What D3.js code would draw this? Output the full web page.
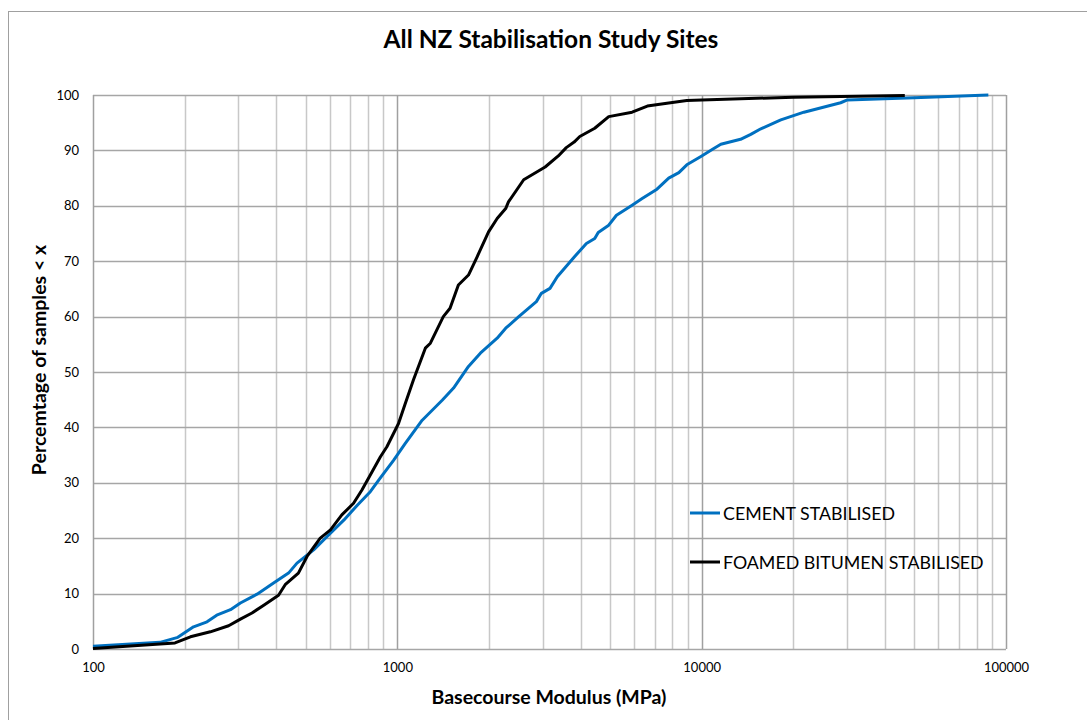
<html>
<head>
<script src="https://d3js.org/d3.v7.min.js"></script>
<style>
body { margin:0; background:white; }
text { font-family: Lato, "Open Sans", sans-serif; }
</style>
</head>
<body>
<div id="plot"></div>
<script>
// modulus (MPa) and percentage of samples < x
var cementX = [100,166,190,214,237,255,283,305,346,392,439,468,531,588,668,740,815,877,973,1062,1207,1404,1530,1713,1874,2128,2270,2506,2863,2974,3174,3354,3820,4180,4453,4572,4950,5248,5908,6374,7131,7792,8414,8937,9943,10860,11560,13420,14500,15650,18200,21680,28620,30120,50000,87500];
var cementY = [0.5,1.2,2.1,4.0,4.9,6.1,7.1,8.3,9.9,11.9,13.7,15.5,17.9,20.3,23.3,26,28.4,30.8,34.1,37.1,41.3,44.9,47.1,51,53.4,56.1,57.9,60,62.7,64.2,65.1,67.2,70.8,73.2,74.1,75.2,76.5,78.3,80.1,81.3,83,85,86,87.4,88.9,90.2,91.1,92,92.9,93.9,95.5,96.9,98.6,99.1,99.5,100];

var foamX = [100,186,209,243,279,305,333,364,407,428,473,505,558,603,657,718,765,815,880,924,1009,1062,1130,1236,1284,1416,1490,1587,1713,1829,1994,2128,2270,2318,2601,3060,3380,3590,3810,3977,4453,4950,5908,6630,7688,8937,10000,20000,46500];
var foamY = [0.1,1.1,2.2,3.1,4.2,5.4,6.5,7.9,9.7,11.6,13.7,16.7,20,21.5,24.2,26.3,28.7,31.4,34.7,36.5,40.7,44.3,48.6,54.3,55.2,60,61.5,65.7,67.5,70.8,75.3,77.7,79.5,80.7,84.7,87,89,90.5,91.5,92.5,94,96.1,96.9,98,98.5,99,99.1,99.6,99.9];

var seriesNames = ["CEMENT STABILISED", "FOAMED BITUMEN STABILISED"];
var seriesColors = ["#0070C0", "#000000"];
var xTicks = [100, 1000, 10000, 100000];
var yTicks = [0,10,20,30,40,50,60,70,80,90,100];

var W = 1087, H = 720;
var margin = {top:95, left:93, right:81, bottom:71};
var width = W - margin.left - margin.right;
var height = H - margin.top - margin.bottom;

var svg = d3.select("#plot").append("svg")
  .attr("width", W).attr("height", H);

// chart frame
svg.append("rect").attr("x", 8.5).attr("y", 11.5)
  .attr("width", 1200).attr("height", 900)
  .attr("fill", "none").attr("stroke", "#a0a0a0");

var g = svg.append("g").attr("transform", "translate("+margin.left+","+margin.top+")");

var x = d3.scaleLog().domain([100, 100000]).range([0, width]);
var y = d3.scaleLinear().domain([0, 100]).range([height, 0]);

// minor vertical gridlines
var minor = [];
[100, 1000, 10000].forEach(function(d){ for (var k=2;k<=9;k++) minor.push(d*k); });
g.selectAll(".minor").data(minor).enter().append("line")
  .attr("x1", function(d){ return Math.round(x(d))+0.5; })
  .attr("x2", function(d){ return Math.round(x(d))+0.5; })
  .attr("y1", 0).attr("y2", height)
  .attr("stroke", "#c8c8c8").attr("stroke-width", 1.5);

// horizontal gridlines
g.selectAll(".hgrid").data(yTicks).enter().append("line")
  .attr("x1", 0).attr("x2", width)
  .attr("y1", function(d){ return Math.round(y(d))+0.5; })
  .attr("y2", function(d){ return Math.round(y(d))+0.5; })
  .attr("stroke", "#a6a6a6").attr("stroke-width", 1.5);

// decade gridlines
g.selectAll(".major").data(xTicks).enter().append("line")
  .attr("x1", function(d){ return Math.round(x(d))+0.5; })
  .attr("x2", function(d){ return Math.round(x(d))+0.5; })
  .attr("y1", 0).attr("y2", height)
  .attr("stroke", "#a0a0a0").attr("stroke-width", 1.5);

// axes
var xAxis = g.append("g").attr("transform", "translate(0,"+height+")")
  .call(d3.axisBottom(x).tickValues(xTicks).tickFormat(d3.format("d")).tickSize(0).tickPadding(14));
var yAxis = g.append("g")
  .call(d3.axisLeft(y).tickValues(yTicks).tickSize(0).tickPadding(14));
[xAxis, yAxis].forEach(function(a){
  a.select(".domain").remove();
  a.selectAll("text").attr("font-family", "Lato, 'Open Sans', sans-serif")
    .attr("font-size", 13).attr("fill", "#000");
});

// curves
var line = d3.line()
  .x(function(d){ return x(d[0]); })
  .y(function(d){ return y(d[1]); });
var cement = cementX.map(function(v,i){ return [v, cementY[i]]; });
var foam = foamX.map(function(v,i){ return [v, foamY[i]]; });
[cement, foam].forEach(function(s, i){
  g.append("path").datum(s).attr("d", line)
    .attr("fill", "none").attr("stroke", seriesColors[i])
    .attr("stroke-width", 3).attr("stroke-linejoin", "round");
});

// title and axis labels
svg.append("text").attr("x", 551).attr("y", 48).attr("text-anchor", "middle")
  .attr("font-size", 24.5).attr("font-weight", "bold").text("All NZ Stabilisation Study Sites");
svg.append("text").attr("x", 549).attr("y", 704).attr("text-anchor", "middle")
  .attr("font-size", 19.5).attr("font-weight", "bold").text("Basecourse Modulus (MPa)");
svg.append("text").attr("transform", "translate(46,360) rotate(-90)").attr("text-anchor", "middle")
  .attr("font-size", 19.5).attr("font-weight", "bold").text("Percemtage of samples < x");

// legend
var leg = svg.append("g").attr("transform", "translate(690,513)");
seriesNames.forEach(function(n, i){
  var r = leg.append("g").attr("transform", "translate(0,"+(i*49)+")");
  r.append("line").attr("x1", 0).attr("x2", 30).attr("stroke", seriesColors[i]).attr("stroke-width", 3);
  r.append("text").attr("x", 33).attr("y", 6.5).attr("font-size", 17.8).text(n);
});
</script>
</body>
</html>
